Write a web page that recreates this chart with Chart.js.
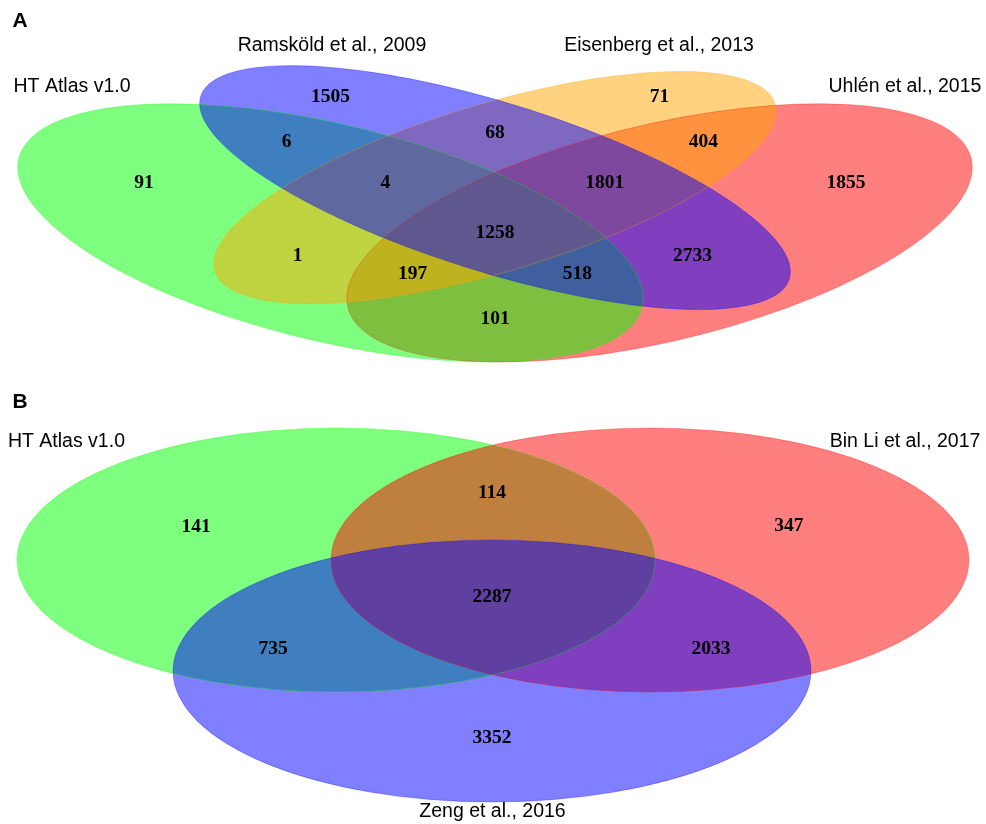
<!DOCTYPE html>
<html>
<head>
<meta charset="utf-8">
<script src="https://cdn.jsdelivr.net/npm/chart.js@4/dist/chart.umd.min.js"></script>
<style>
  html, body { margin: 0; padding: 0; background: #ffffff; }
  #wrap { width: 986px; height: 824px; }
  canvas { display: block; }
</style>
</head>
<body>
<div id="wrap">
  <canvas id="panelA" width="986" height="390"></canvas>
  <canvas id="panelB" width="986" height="434"></canvas>
</div>
<script>
// ---------- Panel A: four-set overlap ----------
const setNamesA = ['HT Atlas v1.0', 'Ramsköld et al., 2009', 'Eisenberg et al., 2013', 'Uhlén et al., 2015'];
// region keys list the member sets (1..4 in setNamesA order)
const regionsA = ['1', '2', '3', '4', '12', '13', '14', '23', '24', '34', '123', '124', '134', '234', '1234'];
const countsA  = [91, 1505, 71, 1855, 6, 1, 101, 68, 2733, 404, 4, 518, 197, 1801, 1258];

// ---------- Panel B: three-set overlap ----------
const setNamesB = ['HT Atlas v1.0', 'Bin Li et al., 2017', 'Zeng et al., 2016'];
const regionsB = ['1', '2', '3', '12', '13', '23', '123'];
const countsB  = [141, 347, 3352, 114, 735, 2033, 2287];

// ---------- layout (unit coordinates of each panel) ----------
const palette = {
  green:  [0, 255, 0],
  blue:   [0, 0, 255],
  orange: [255, 165, 0],
  red:    [255, 0, 0]
};

// classic four-ellipse arrangement, drawn in this order
const ellipsesA = [
  { cx: 0.65, cy: 0.47, a: 0.35, b: 0.20, rot: 45,  color: palette.red },
  { cx: 0.35, cy: 0.47, a: 0.35, b: 0.20, rot: 135, color: palette.green },
  { cx: 0.50, cy: 0.57, a: 0.33, b: 0.15, rot: 45,  color: palette.orange },
  { cx: 0.50, cy: 0.57, a: 0.35, b: 0.15, rot: 135, color: palette.blue }
];
const regionAnchorsA = {
  '2': [0.350, 0.77], '23': [0.500, 0.69], '3': [0.650, 0.77],
  '12': [0.310, 0.67], '123': [0.400, 0.58], '1234': [0.500, 0.47],
  '234': [0.600, 0.58], '34': [0.690, 0.67], '1': [0.180, 0.58],
  '13': [0.320, 0.42], '134': [0.425, 0.38], '14': [0.500, 0.28],
  '124': [0.575, 0.38], '24': [0.680, 0.42], '4': [0.820, 0.58]
};
const nameAnchorsA = [[0.1144, 0.792], [0.3514, 0.8826], [0.6495, 0.8826], [0.8737, 0.792]];
const letterAnchorA = [0.067, 0.9377];
const viewA = { x: [0.04877, 0.94758], y: [0.12318, 0.98411] };

const ellipsesB = [
  { cx: 0.3408, cy: 0.6083, a: 0.3235, b: 0.3041, rot: 0, color: palette.green },
  { cx: 0.6592, cy: 0.6083, a: 0.3235, b: 0.3041, rot: 0, color: palette.red },
  { cx: 0.4990, cy: 0.3525, a: 0.3235, b: 0.3018, rot: 0, color: palette.blue }
];
const regionAnchorsB = {
  '1': [0.1988, 0.6843], '12': [0.4990, 0.7627], '2': [0.8002, 0.6866],
  '123': [0.4990, 0.5230], '13': [0.2769, 0.4032], '23': [0.7211, 0.4032],
  '3': [0.4990, 0.1982]
};
const nameAnchorsB = [[0.0674, 0.8802], [0.9179, 0.8802], [0.4995, 0.0276]];
const letterAnchorB = [0.0203, 0.9724];
const viewB = { x: [0, 1], y: [0, 1] };

const countFont = 'bold 19.5px "Liberation Serif", "Times New Roman", serif';
const nameFont = '19.5px "Liberation Sans", Arial, sans-serif';
const letterFont = 'bold 21px "Liberation Sans", Arial, sans-serif';

// Filled, semi-transparent ellipses placed through the chart's scales
const vennShapes = {
  id: 'vennShapes',
  beforeDatasetsDraw(chart, args, opts) {
    const { ctx, scales: { x, y } } = chart;
    const ox = x.getPixelForValue(0), sx = x.getPixelForValue(1) - ox;
    const oy = y.getPixelForValue(0), sy = y.getPixelForValue(1) - oy;
    const trace = (e) => {
      ctx.save();
      ctx.transform(sx, 0, 0, sy, ox, oy);
      ctx.beginPath();
      ctx.ellipse(e.cx, e.cy, e.a, e.b, e.rot * Math.PI / 180, 0, Math.PI * 2);
      ctx.restore();
    };
    ctx.save();
    opts.shapes.forEach(e => {
      trace(e);
      ctx.fillStyle = `rgba(${e.color.join(',')},0.5)`;
      ctx.fill();
    });
    opts.shapes.forEach(e => {
      trace(e);
      ctx.strokeStyle = `rgba(${e.color.join(',')},0.3)`;
      ctx.lineWidth = 1;
      ctx.stroke();
    });
    ctx.restore();
  }
};

// Text for every point of a dataset that carries a `texts` list
const pointText = {
  id: 'pointText',
  afterDatasetsDraw(chart) {
    const { ctx } = chart;
    chart.data.datasets.forEach((ds, i) => {
      if (!ds.texts) return;
      const meta = chart.getDatasetMeta(i);
      ctx.save();
      ctx.font = ds.textFont;
      ctx.fillStyle = '#000000';
      ctx.textAlign = 'center';
      ctx.textBaseline = 'middle';
      meta.data.forEach((pt, j) => ctx.fillText(ds.texts[j], pt.x, pt.y));
      ctx.restore();
    });
  }
};

function vennChart(canvasId, view, shapes, regions, counts, anchors, names, nameAnchors, letter, letterAnchor) {
  return new Chart(document.getElementById(canvasId), {
    type: 'scatter',
    data: {
      datasets: [
        {
          label: 'counts',
          data: regions.map(r => ({ x: anchors[r][0], y: anchors[r][1] })),
          texts: counts.map(String),
          textFont: countFont
        },
        {
          label: 'sets',
          data: nameAnchors.map(p => ({ x: p[0], y: p[1] })),
          texts: names,
          textFont: nameFont
        },
        {
          label: 'panel',
          data: [{ x: letterAnchor[0], y: letterAnchor[1] }],
          texts: [letter],
          textFont: letterFont
        }
      ]
    },
    options: {
      responsive: false,
      animation: false,
      devicePixelRatio: 1,
      events: [],
      layout: { padding: 0 },
      elements: { point: { radius: 0, hoverRadius: 0 } },
      plugins: {
        legend: { display: false },
        tooltip: { enabled: false },
        vennShapes: { shapes: shapes }
      },
      scales: {
        x: { type: 'linear', display: false, min: view.x[0], max: view.x[1] },
        y: { type: 'linear', display: false, min: view.y[0], max: view.y[1] }
      }
    },
    plugins: [vennShapes, pointText]
  });
}

vennChart('panelA', viewA, ellipsesA, regionsA, countsA, regionAnchorsA, setNamesA, nameAnchorsA, 'A', letterAnchorA);
vennChart('panelB', viewB, ellipsesB, regionsB, countsB, regionAnchorsB, setNamesB, nameAnchorsB, 'B', letterAnchorB);
</script>
</body>
</html>
